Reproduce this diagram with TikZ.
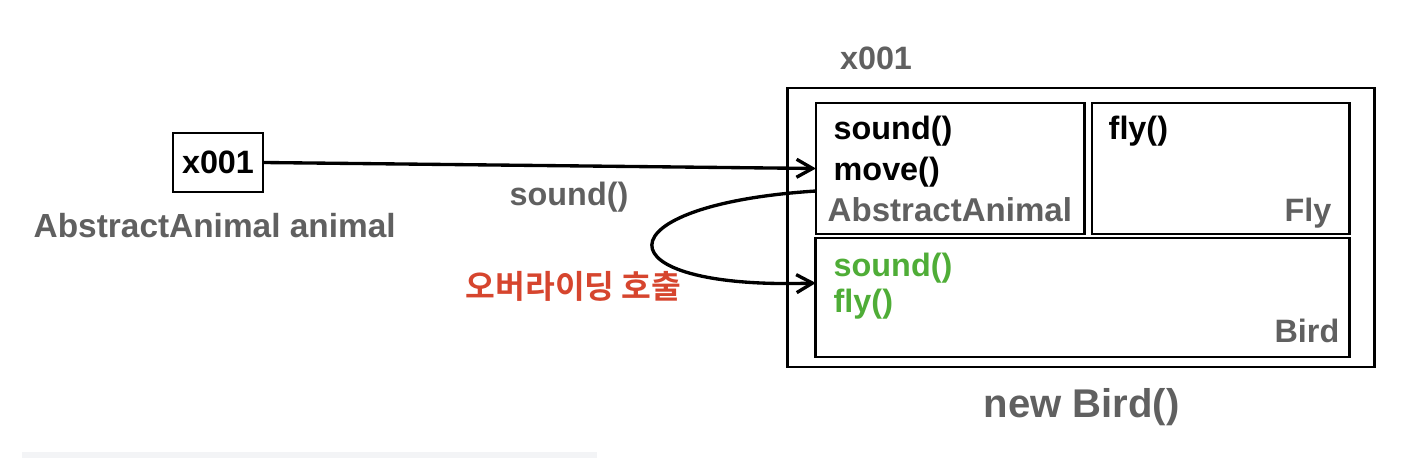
\documentclass[tikz,border=0pt]{standalone}
\usepackage{fontspec}
\setmainfont{Liberation Sans}
\newfontfamily\kr{Noto Sans CJK KR}[BoldFont={Noto Sans CJK KR Bold}]
\usetikzlibrary{arrows.meta,calc}
\definecolor{txtgray}{HTML}{606060}
\definecolor{overgreen}{HTML}{4FAD37}
\definecolor{callred}{HTML}{D6452E}
\definecolor{barbg}{HTML}{F3F4F6}
\begin{document}
\begin{tikzpicture}[x=0.01cm,y=-0.01cm]
    \tikzset{
        box/.style={draw, line width=0.8pt, inner sep=0pt, outer sep=0pt},
        txt/.style={font=\fontsize{9.2}{11}\selectfont\bfseries, inner sep=0pt},
        call/.style={-{Straight Barb[length=1.6mm,width=1.8mm]}, line width=0.95pt}}
    \useasboundingbox (0,0) rectangle (1410,458);
    \fill[barbg] (22,452) rectangle (597,458);
    % the object on the heap
    \node[box, minimum width=5.86cm, minimum height=2.79cm] (obj) at (1081,227.5) {};
    \node[box, minimum width=2.68cm, minimum height=1.31cm] (aa) at (950,168.5) {};
    \node[box, minimum width=2.57cm, minimum height=1.31cm] (fly) at (1220.5,168.5) {};
    \node[box, minimum width=5.33cm, minimum height=1.19cm] (bird) at (1082.5,297.5) {};
    \node[txt, text=txtgray, anchor=base] (addr) at (876,70) {x001};
    \node[txt, anchor=base west] (aasound) at (833,140) {sound()};
    \node[txt, anchor=base west] (aamove) at (833,181) {move()};
    \node[txt, text=txtgray, font=\fontsize{9.4}{11}\selectfont\bfseries, anchor=base west] (aaname) at (827,222) {AbstractAnimal};
    \node[txt, anchor=base west] (flyfly) at (1108,140) {fly()};
    \node[txt, text=txtgray, anchor=base east] (flyname) at (1332,222) {Fly};
    \node[txt, text=overgreen, anchor=base west] (birdsound) at (833,277) {sound()};
    \node[txt, text=overgreen, anchor=base west] (birdfly) at (833,313) {fly()};
    \node[txt, text=txtgray, anchor=base east] (birdname) at (1340,342) {Bird};
    \node[txt, text=txtgray, font=\fontsize{11.4}{13}\selectfont\bfseries, anchor=base west] (newbird) at (983,417) {new Bird()};
    % the reference variable
    \node[box, txt, minimum width=0.9cm, minimum height=0.59cm] (ref) at (218,162.5) {x001};
    \node[txt, text=txtgray, font=\fontsize{9.5}{11}\selectfont\bfseries, anchor=base west] (refname) at (33,238) {AbstractAnimal animal};
    \node[txt, text=txtgray, anchor=base west] (callname) at (509,206) {sound()};
    \node[txt, text=callred, anchor=base west] (override) at (465,298) {\kr 오버라이딩 호출};
    \draw[call] (ref.east) -- (aa.west);
    \draw[call] ($(aa.west)+(0,22.5)$) .. controls (598,205) and (598,290) .. ($(bird.west)+(0,-14.5)$);
\end{tikzpicture}
\end{document}
